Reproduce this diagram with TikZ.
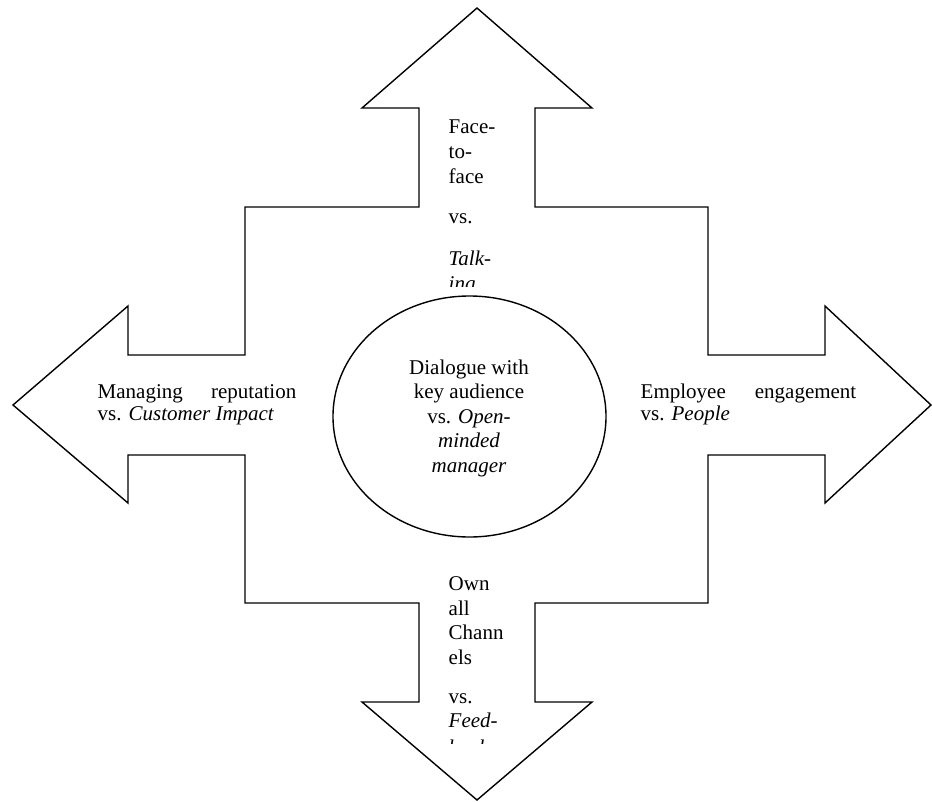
\documentclass[tikz,border=0pt]{standalone}
\usepackage{fontspec}
\setmainfont{Liberation Serif}
\begin{document}
\begin{tikzpicture}[x=1pt,y=-1pt, line width=1.4pt, line join=miter,
  txt/.style={inner sep=0pt, font=\fontsize{21}{24}\selectfont},
  lt/.style={txt, anchor=base west},
  ct/.style={txt, anchor=base}]
\useasboundingbox (0,0) rectangle (932,801);
% cross outline
\draw (477,8) -- (592,108) -- (535,108) -- (535,207) -- (708,207) -- (708,355)
  -- (825,355) -- (825,306) -- (931,405) -- (825,503) -- (825,455) -- (708,455)
  -- (708,603) -- (535,603) -- (535,702) -- (592,702) -- (477,800) -- (362,702)
  -- (419,702) -- (419,603) -- (245,603) -- (245,455) -- (128,455) -- (128,503)
  -- (13,405) -- (128,306) -- (128,355) -- (245,355) -- (245,207) -- (419,207)
  -- (419,108) -- (362,108) -- cycle;
% centre ellipse
\draw (469.5,416.5) ellipse [x radius=136.5pt, y radius=120.5pt];
% top text
\begin{scope}
\clip (400,110) rectangle (534,286);
\node[lt] (t1) at (448,133) {Face-};
\node[lt] (t2) at (448,158) {to-};
\node[lt] (t3) at (448,183) {face};
\node[lt] (t4) at (448,223) {vs.};
\node[lt] (t5) at (448,265) {\itshape Talk-};
\node[lt] (t6) at (448,290) {\itshape ing};
\end{scope}
% bottom text
\begin{scope}
\clip (400,560) rectangle (534,743.5);
\node[lt] (b1) at (448,590.5) {Own};
\node[lt] (b2) at (448,615) {all};
\node[lt] (b3) at (448,639.5) {Chann};
\node[lt] (b4) at (448,664) {els};
\node[lt] (b5) at (448,703) {vs.};
\node[lt] (b6) at (448,727.5) {\itshape Feed-};
\node[lt] (b7) at (448,754) {\itshape back};
\end{scope}
% left text
\node[lt] (l1) at (97,398.3) {Managing};
\node[txt, anchor=base east] (l2) at (297,398.3) {reputation};
\node[lt] (l3) at (97,420.7) {vs. \itshape Customer Impact};
% right text
\node[lt] (r1) at (640,398.3) {Employee};
\node[txt, anchor=base east] (r2) at (857,398.3) {engagement};
\node[lt] (r3) at (640,420.7) {vs. \itshape People};
% centre text
\node[ct] (c1) at (469,374.3) {Dialogue with};
\node[ct] (c2) at (469,398.8) {key audience};
\node[ct] (c3) at (469,423.3) {vs. \itshape Open-};
\node[ct] (c4) at (469,447.8) {\itshape minded};
\node[ct] (c5) at (469,472.3) {\itshape manager};
\end{tikzpicture}
\end{document}
